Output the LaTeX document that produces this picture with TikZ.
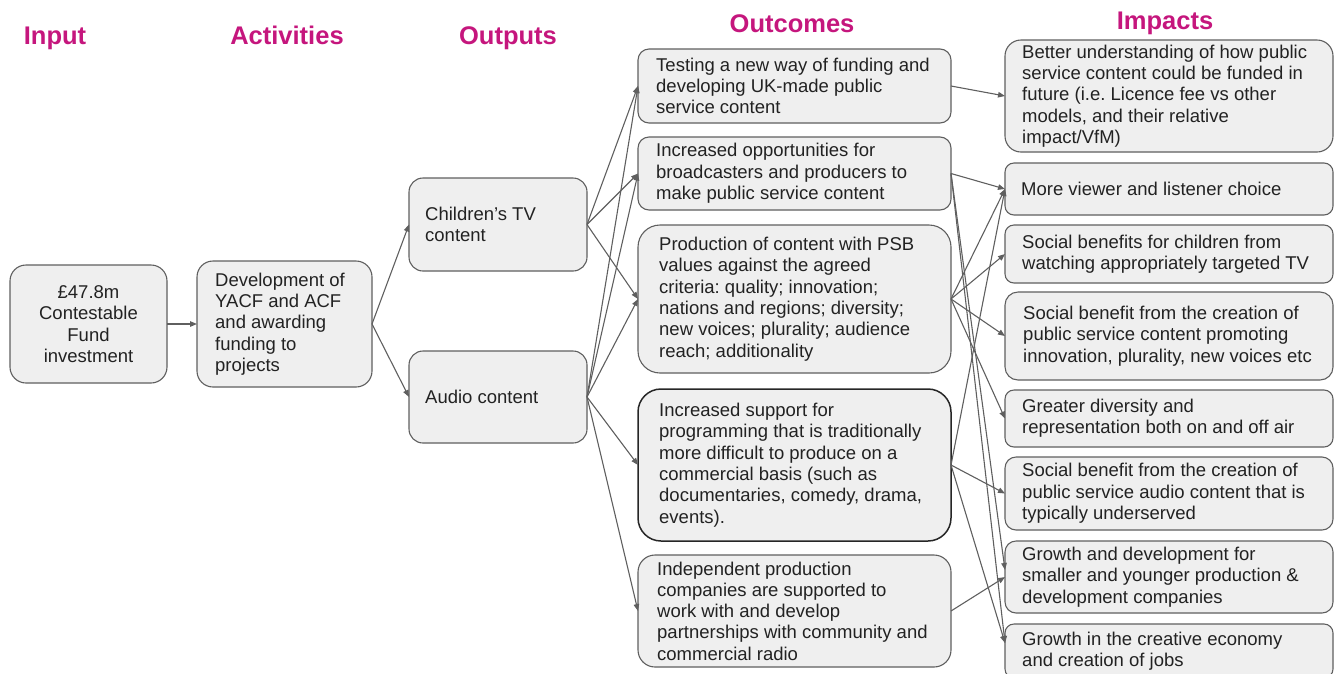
\documentclass[tikz,border=0pt]{standalone}
\usepackage{fontspec}
\setmainfont{Liberation Sans}
\usetikzlibrary{arrows.meta,fit}

\definecolor{hdr}{RGB}{197,22,125}
\definecolor{boxfill}{RGB}{239,239,239}
\definecolor{boxline}{RGB}{95,95,95}
\definecolor{linkc}{RGB}{95,95,95}
\definecolor{ink}{RGB}{34,34,34}

% rounded panel spanning two corners: name, x1, y1, x2, y2, corner radius
\newcommand\panel[6]{\node[box, rounded corners=#6pt, fit={(#2,#3) (#4,#5)}] (#1) {};}

\begin{document}
\frenchspacing
\begin{tikzpicture}[x=1pt,y=-1pt,
  box/.style={draw=boxline, fill=boxfill, line width=1.1pt, inner sep=0pt, outer sep=0pt},
  txt/.style={text=ink, font=\fontsize{18.5}{21.3}\selectfont\frenchspacing, align=left, inner sep=0pt, anchor=west},
  head/.style={text=hdr, font=\fontsize{25.5}{30}\selectfont\bfseries, anchor=base, inner sep=0pt},
  link/.style={draw=linkc, line width=1.1pt, -{Triangle[length=7pt,width=5.5pt]}}
]
\useasboundingbox (0,0) rectangle (1335,673);

% column headings
\node[head] (hin)  at (55,44)   {Input};
\node[head] (hact) at (287,44)  {Activities};
\node[head] (hout) at (508,44)  {Outputs};
\node[head] (hoc)  at (792,32)  {Outcomes};
\node[head] (him)  at (1165,29) {Impacts};

% input, activities, outputs
\panel{in}{10}{265}{167}{383}{16}
\node[txt, anchor=center, align=center] (int) at (in.center) {£47.8m\\Contestable\\Fund\\investment};
\panel{act}{197}{261}{372}{387}{16}
\node[txt] (actt) at ([xshift=18pt]act.west) {Development of\\YACF and ACF\\and awarding\\funding to\\projects};
\panel{tv}{409}{178}{587}{271}{14}
\node[txt] (tvt) at ([xshift=16pt]tv.west) {Children’s TV\\content};
\panel{aud}{409}{351}{587}{443}{14}
\node[txt] (audt) at ([xshift=16pt]aud.west) {Audio content};

% outcomes
\panel{o1}{638}{49}{951}{123}{11}
\node[txt] (o1t) at ([xshift=18pt]o1.west) {Testing a new way of funding and\\developing UK-made public\\service content};
\panel{o2}{638}{137}{951}{210}{11}
\node[txt] (o2t) at ([xshift=18pt]o2.west) {Increased opportunities for\\broadcasters and producers to\\make public service content};
\panel{o3}{638}{225}{951}{373}{22}
\node[txt] (o3t) at ([xshift=21pt]o3.west) {Production of content with PSB\\values against the agreed\\criteria: quality; innovation;\\nations and regions; diversity;\\new voices; plurality; audience\\reach; additionality};
\node[box, draw=black!85, line width=1.5pt, rounded corners=23pt, fit={(638,389) (951,541)}] (o4) {};
\node[txt] (o4t) at ([xshift=21pt]o4.west) {Increased support for\\programming that is traditionally\\more difficult to produce on a\\commercial basis (such as\\documentaries, comedy, drama,\\events).};
\panel{o5}{638}{555}{951}{667}{17}
\node[txt] (o5t) at ([xshift=19pt]o5.west) {Independent production\\companies are supported to\\work with and develop\\partnerships with community and\\commercial radio};

% impacts
\panel{i1}{1005}{40}{1333}{152}{16}
\node[txt] (i1t) at ([xshift=17pt]i1.west) {Better understanding of how public\\service content could be funded in\\future (i.e. Licence fee vs other\\models, and their relative\\impact/VfM)};
\panel{i2}{1005}{163}{1333}{215}{9}
\node[txt] (i2t) at ([xshift=16pt]i2.west) {More viewer and listener choice};
\panel{i3}{1005}{225}{1333}{283}{9}
\node[txt] (i3t) at ([xshift=17pt]i3.west) {Social benefits for children from\\watching appropriately targeted TV};
\panel{i4}{1005}{292}{1333}{380}{13}
\node[txt] (i4t) at ([xshift=18pt]i4.west) {Social benefit from the creation of\\public service content promoting\\innovation, plurality, new voices etc};
\panel{i5}{1005}{390}{1333}{447}{9}
\node[txt] (i5t) at ([xshift=17pt]i5.west) {Greater diversity and\\representation both on and off air};
\panel{i6}{1005}{457}{1333}{530}{11}
\node[txt] (i6t) at ([xshift=17pt]i6.west) {Social benefit from the creation of\\public service audio content that is\\typically underserved};
\panel{i7}{1005}{541}{1333}{613}{11}
\node[txt] (i7t) at ([xshift=17pt]i7.west) {Growth and development for\\smaller and younger production \&\\development companies};
\panel{i8}{1005}{624}{1333}{678}{9}
\node[txt] (i8t) at ([xshift=17pt]i8.west) {Growth in the creative economy\\and creation of jobs};

% connectors: input to outputs
\draw[link] (in.east) -- (act.west);
\draw[link] (act.east) -- (tv.west);
\draw[link] (act.east) -- (aud.west);

% outputs to outcomes
\foreach \t in {o1,o2,o3} \draw[link] (tv.east) -- (\t.west);
\foreach \t in {o1,o2,o3,o4,o5} \draw[link] (aud.east) -- (\t.west);

% outcomes to impacts
\draw[link] (o1.east) -- (i1.west);
\draw[link] (o2.east) -- (i2.west);
\draw[link] (o2.east) -- ([yshift=7pt]i7.west);
\draw[link] (o2.east) -- ([yshift=8pt]i8.west);
\foreach \t in {i2,i3,i4,i5} \draw[link] (o3.east) -- (\t.west);
\draw[link] (o4.east) -- (i2.west);
\draw[link] (o4.east) -- (i6.west);
\draw[link] (o4.east) -- ([yshift=8pt]i8.west);
\draw[link] (o5.east) -- (i7.west);
\end{tikzpicture}
\end{document}
